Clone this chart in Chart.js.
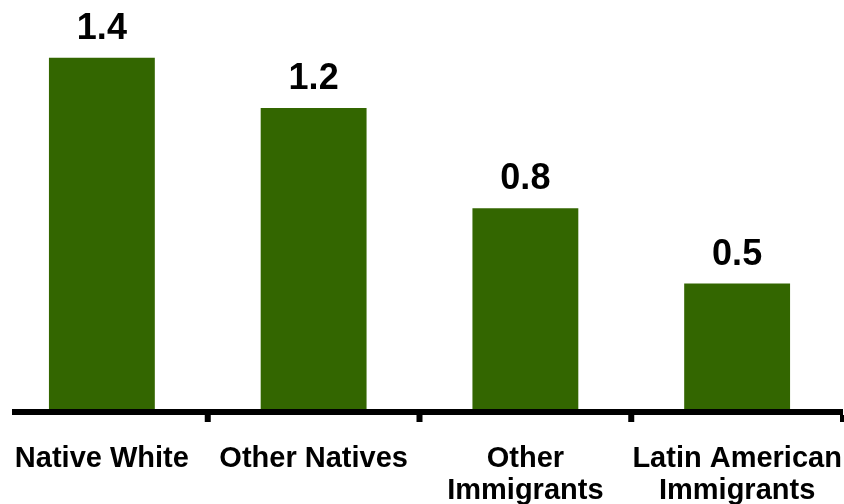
<!DOCTYPE html>
<html>
<head>
<meta charset="utf-8">
<script src="https://cdn.jsdelivr.net/npm/chart.js@4"></script>
<style>
  html, body { margin: 0; padding: 0; background: #ffffff; }
  #wrap { width: 844px; height: 504px; position: relative; }
</style>
</head>
<body>
<div id="wrap"><canvas id="chart"></canvas></div>
<script>
// Categories and values
const categories = [
  ['Native White'],
  ['Other Natives'],
  ['Other', 'Immigrants'],
  ['Latin American', 'Immigrants']
];
const values = [1.4, 1.2, 0.8, 0.5];
const valueLabels = ['1.4', '1.2', '0.8', '0.5'];

const FONT = '"Liberation Sans", Arial, Helvetica, sans-serif';

// Lets the category band start a few pixels left of the canvas edge.
const bleedLeft = {
  id: 'bleedLeft',
  afterLayout(chart) {
    const x = chart.scales.x;
    x.left -= 4;
    x.width += 4;
    x.configure();
  }
};

// Draws the heavy baseline with short ticks between categories,
// and the value printed above each bar.
const decorations = {
  id: 'decorations',
  afterDatasetsDraw(chart) {
    const ctx = chart.ctx;
    const x = chart.scales.x;
    const area = chart.chartArea;
    const n = categories.length;
    const step = x.getPixelForValue(1) - x.getPixelForValue(0);
    const base = area.bottom;
    ctx.save();
    ctx.fillStyle = '#000000';
    ctx.fillRect(x.left + 16, base, x.right - x.left - 16, 6);
    for (let i = 1; i <= n; i++) {
      const bx = x.getPixelForValue(i - 1) + step / 2;
      ctx.fillRect(bx - 3, base + 6, 6, 7);
    }
    ctx.font = 'bold 36px ' + FONT;
    ctx.textAlign = 'center';
    ctx.textBaseline = 'alphabetic';
    const meta = chart.getDatasetMeta(0);
    meta.data.forEach((bar, i) => {
      ctx.fillText(valueLabels[i], bar.x, bar.y - 19);
    });
    ctx.restore();
  }
};

new Chart(document.getElementById('chart'), {
  type: 'bar',
  data: {
    labels: categories,
    datasets: [{
      data: values,
      backgroundColor: '#336600',
      borderWidth: 0,
      barPercentage: 0.5,
      categoryPercentage: 1.0
    }]
  },
  options: {
    responsive: true,
    maintainAspectRatio: false,
    animation: false,
    layout: { padding: { left: 0, right: 1, top: 0, bottom: 0 } },
    plugins: {
      legend: { display: false },
      tooltip: { enabled: false }
    },
    scales: {
      x: {
        grid: { display: false, drawTicks: false },
        border: { display: false },
        ticks: {
          color: '#000000',
          padding: 34,
          maxRotation: 0,
          autoSkip: false,
          font: { family: FONT, size: 29, weight: 'bold', lineHeight: 1.1 }
        },
        afterFit(scale) {
          scale.height = 95;
          scale.paddingLeft = 0;
          scale.paddingRight = 0;
        }
      },
      y: {
        display: false,
        min: 0,
        max: 1.63
      }
    }
  },
  plugins: [bleedLeft, decorations]
});
</script>
</body>
</html>
